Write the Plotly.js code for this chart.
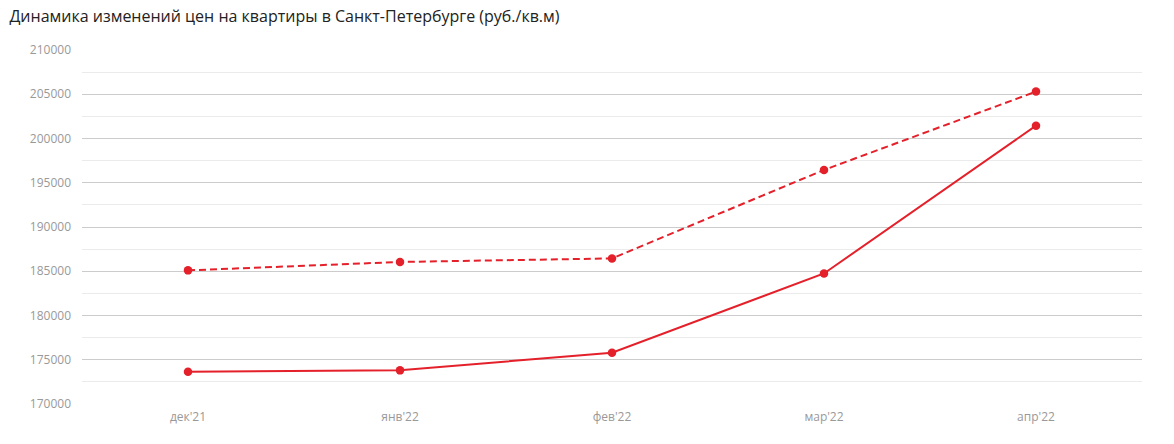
<!DOCTYPE html>
<html>
<head>
<meta charset="utf-8">
<script src="https://cdn.plot.ly/plotly-3.0.1.min.js"></script>
<style>html,body{margin:0;padding:0;background:#fff;}#chart{width:1174px;height:444px;}</style>
</head>
<body>
<div id="chart"></div>
<script>
const categories = ["дек'21", "янв'22", "фев'22", "мар'22", "апр'22"];
const seriesDashed = [185100, 186050, 186450, 196450, 205300];
const seriesSolid = [173650, 173800, 175800, 184750, 201450];
const yTicks = [170000, 175000, 180000, 185000, 190000, 195000, 200000, 205000, 210000];

const red = '#e4202a';
const traces = [
  {x: categories, y: seriesDashed, type: 'scatter', mode: 'lines+markers',
   line: {color: red, width: 2, dash: '7px,4px'}, marker: {color: red, size: 8.5}, hoverinfo: 'y'},
  {x: categories, y: seriesSolid, type: 'scatter', mode: 'lines+markers',
   line: {color: red, width: 2}, marker: {color: red, size: 8.5}, hoverinfo: 'y'}
];
const layout = {
  width: 1174, height: 444,
  margin: {l: 82, r: 32, t: 50, b: 40},
  paper_bgcolor: '#fff', plot_bgcolor: '#fff',
  showlegend: false,
  font: {family: '"Open Sans", sans-serif', color: '#999', size: 12},
  title: {text: 'Динамика изменений цен на квартиры в Санкт-Петербурге (руб./кв.м)',
          x: 0.008, xanchor: 'left', xref: 'container', y: 0.962, yanchor: 'middle', yref: 'container',
          font: {family: '"Open Sans", sans-serif', size: 16, color: '#222'}},
  xaxis: {type: 'category', range: [-0.5, 4.5], showgrid: false, zeroline: false, showline: false,
          ticks: '', tickfont: {color: '#999', size: 12}, ticklabelstandoff: 4, fixedrange: true},
  yaxis: {range: [170000, 210000], tickvals: yTicks, ticktext: yTicks.map(String),
          showgrid: true, gridcolor: '#cccccc', gridwidth: 1, zeroline: false, showline: false,
          ticks: '', tickfont: {color: '#999', size: 12}, ticklabelstandoff: 10,
          minor: {dtick: 2500, tick0: 170000, showgrid: true, gridcolor: '#ebebeb', gridwidth: 1},
          fixedrange: true}
};
Plotly.newPlot('chart', traces, layout, {displayModeBar: false, staticPlot: true});
</script>
</body>
</html>
